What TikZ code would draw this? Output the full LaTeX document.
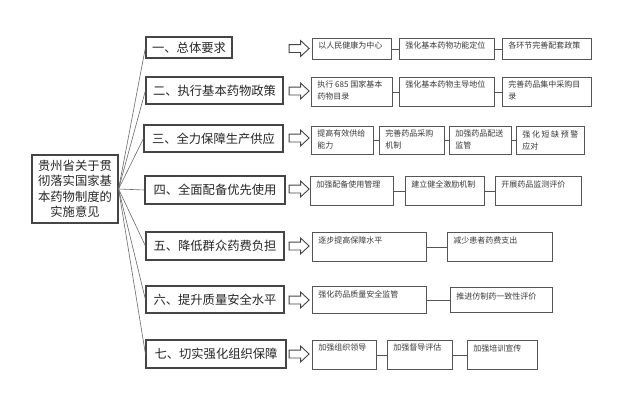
\documentclass[tikz,border=0pt]{standalone}
\usepackage{fontspec}
\setmainfont{Noto Sans CJK SC}
\usetikzlibrary{shapes.arrows}
\definecolor{boxc}{HTML}{454545}
\definecolor{subc}{HTML}{555555}
\definecolor{subt}{HTML}{3A3A3A}
\definecolor{fanc}{HTML}{6A6A6A}
\newcommand\SB[7]{\node[sub] (#1) at (#2,#3) {\parbox[c][#5pt][t]{#4pt}{\vspace*{#6pt}\leftskip=6pt\baselineskip=12.5pt\relax #7\par}};}
\begin{document}
\begin{tikzpicture}[x=1pt,y=-1pt,
  cat/.style={draw=boxc, line width=1.1pt, inner sep=0pt, align=center, font=\fontsize{12.3}{15.5}\selectfont, text=black!85},
  sub/.style={draw=subc, line width=0.9pt, inner sep=0pt, anchor=north west, font=\fontsize{8}{12.5}\selectfont, text=subt},
  harrow/.style={single arrow, draw=boxc, line width=0.9pt, inner xsep=0pt, inner ysep=3.5pt, minimum height=20pt, single arrow head extend=4pt, single arrow tip angle=86, fill=white},
  fan/.style={draw=fanc, line width=0.6pt},
  conn/.style={draw=subc, line width=0.8pt}]
\useasboundingbox[fill=white] (0,0) rectangle (640,402);
% root
\node[cat, minimum width=86pt, minimum height=68pt] (L) at (75,189) {贵州省关于贯\\彻落实国家基\\本药物制度的\\实施意见};
% categories
\node[cat, minimum width=86pt, minimum height=21pt] (C1) at (189,47.5) {一、总体要求};
\node[cat, minimum width=137pt, minimum height=27pt] (C2) at (214.5,90.5) {二、执行基本药物政策};
\node[cat, minimum width=139pt, minimum height=27pt] (C3) at (213.5,138.5) {三、全力保障生产供应};
\node[cat, minimum width=140pt, minimum height=28pt] (C4) at (215,190) {四、全面配备优先使用};
\node[cat, minimum width=138pt, minimum height=28pt] (C5) at (215,246) {五、降低群众药费负担};
\node[cat, minimum width=138pt, minimum height=27pt] (C6) at (215,299.5) {六、提升质量安全水平};
\node[cat, minimum width=140pt, minimum height=28pt] (C7) at (216,354) {七、切实强化组织保障};
\foreach \i in {1,...,7} \draw[fan] (L.east) -- (C\i.west);
% hollow arrows
\node[harrow] (H1) at (297,48.5) {};
\node[harrow] (H2) at (297,91) {};
\node[harrow] (H3) at (297,138) {};
\node[harrow] (H4) at (297,189) {};
\node[harrow] (H5) at (297,246) {};
\node[harrow] (H6) at (297,300) {};
\node[harrow] (H7) at (297,354) {};
% row 1
\SB{r1a}{312}{38}{79}{21}{3}{以人民健康为中心}
\SB{r1b}{399}{38}{95}{21}{3}{强化基本药物功能定位}
\SB{r1c}{502}{38}{89}{21}{3}{各环节完善配套政策}
% row 2
\SB{r2a}{311}{77}{81}{29}{3}{执行 685 国家基本\\药物目录}
\SB{r2b}{399}{77}{95}{29}{3}{强化基本药物主导地位}
\SB{r2c}{502}{77}{89}{29}{3}{完善药品集中采购目\\录}
% row 3
\SB{r3a}{311}{126}{62}{28}{3}{提高有效供给\\能力}
\SB{r3b}{379}{126}{65}{28}{3}{完善药品采购\\机制}
\SB{r3c}{449}{126}{62}{28}{3}{加强药品配送\\监管}
\SB{r3d}{516}{126}{68}{28}{4}{\makebox[56pt][s]{强\hfil 化\hfil 短\hfil 缺\hfil 预\hfil 警}\\应对}
% row 4
\SB{r4a}{310}{176}{83}{29}{4}{加强配备使用管理}
\SB{r4b}{405}{176}{79}{29}{4}{建立健全激励机制}
\SB{r4c}{495}{176}{86}{29}{4}{开展药品监测评价}
% row 5
\SB{r5a}{312}{232}{114}{29}{4}{逐步提高保障水平}
\SB{r5b}{447}{232}{105}{29}{4}{减少患者药费支出}
% row 6
\SB{r6a}{312}{286}{114}{27}{4}{强化药品质量安全监管}
\SB{r6b}{450}{287}{102}{25}{5}{推进仿制药一致性评价}
% row 7
\SB{r7a}{312}{340}{64}{29}{3}{加强组织领导}
\SB{r7b}{387}{340}{65}{29}{3}{加强督导评估}
\SB{r7c}{467}{340}{70}{29}{4}{加强培训宣传}
% row connectors
\draw[conn] (r1a) -- (r1b); \draw[conn] (r1b) -- (r1c);
\draw[conn] (r2a) -- (r2b); \draw[conn] (r2b) -- (r2c);
\draw[conn] (r3a) -- (r3b); \draw[conn] (r3b) -- (r3c); \draw[conn] (r3c) -- (r3d);
\draw[conn] (r4a) -- (r4b); \draw[conn] (r4b) -- (r4c);
\draw[conn] (r5a) -- (r5b);
\draw[conn] (r6a) -- (r6b);
\draw[conn] (r7a) -- (r7b); \draw[conn] (r7b) -- (r7c);
\end{tikzpicture}
\end{document}
